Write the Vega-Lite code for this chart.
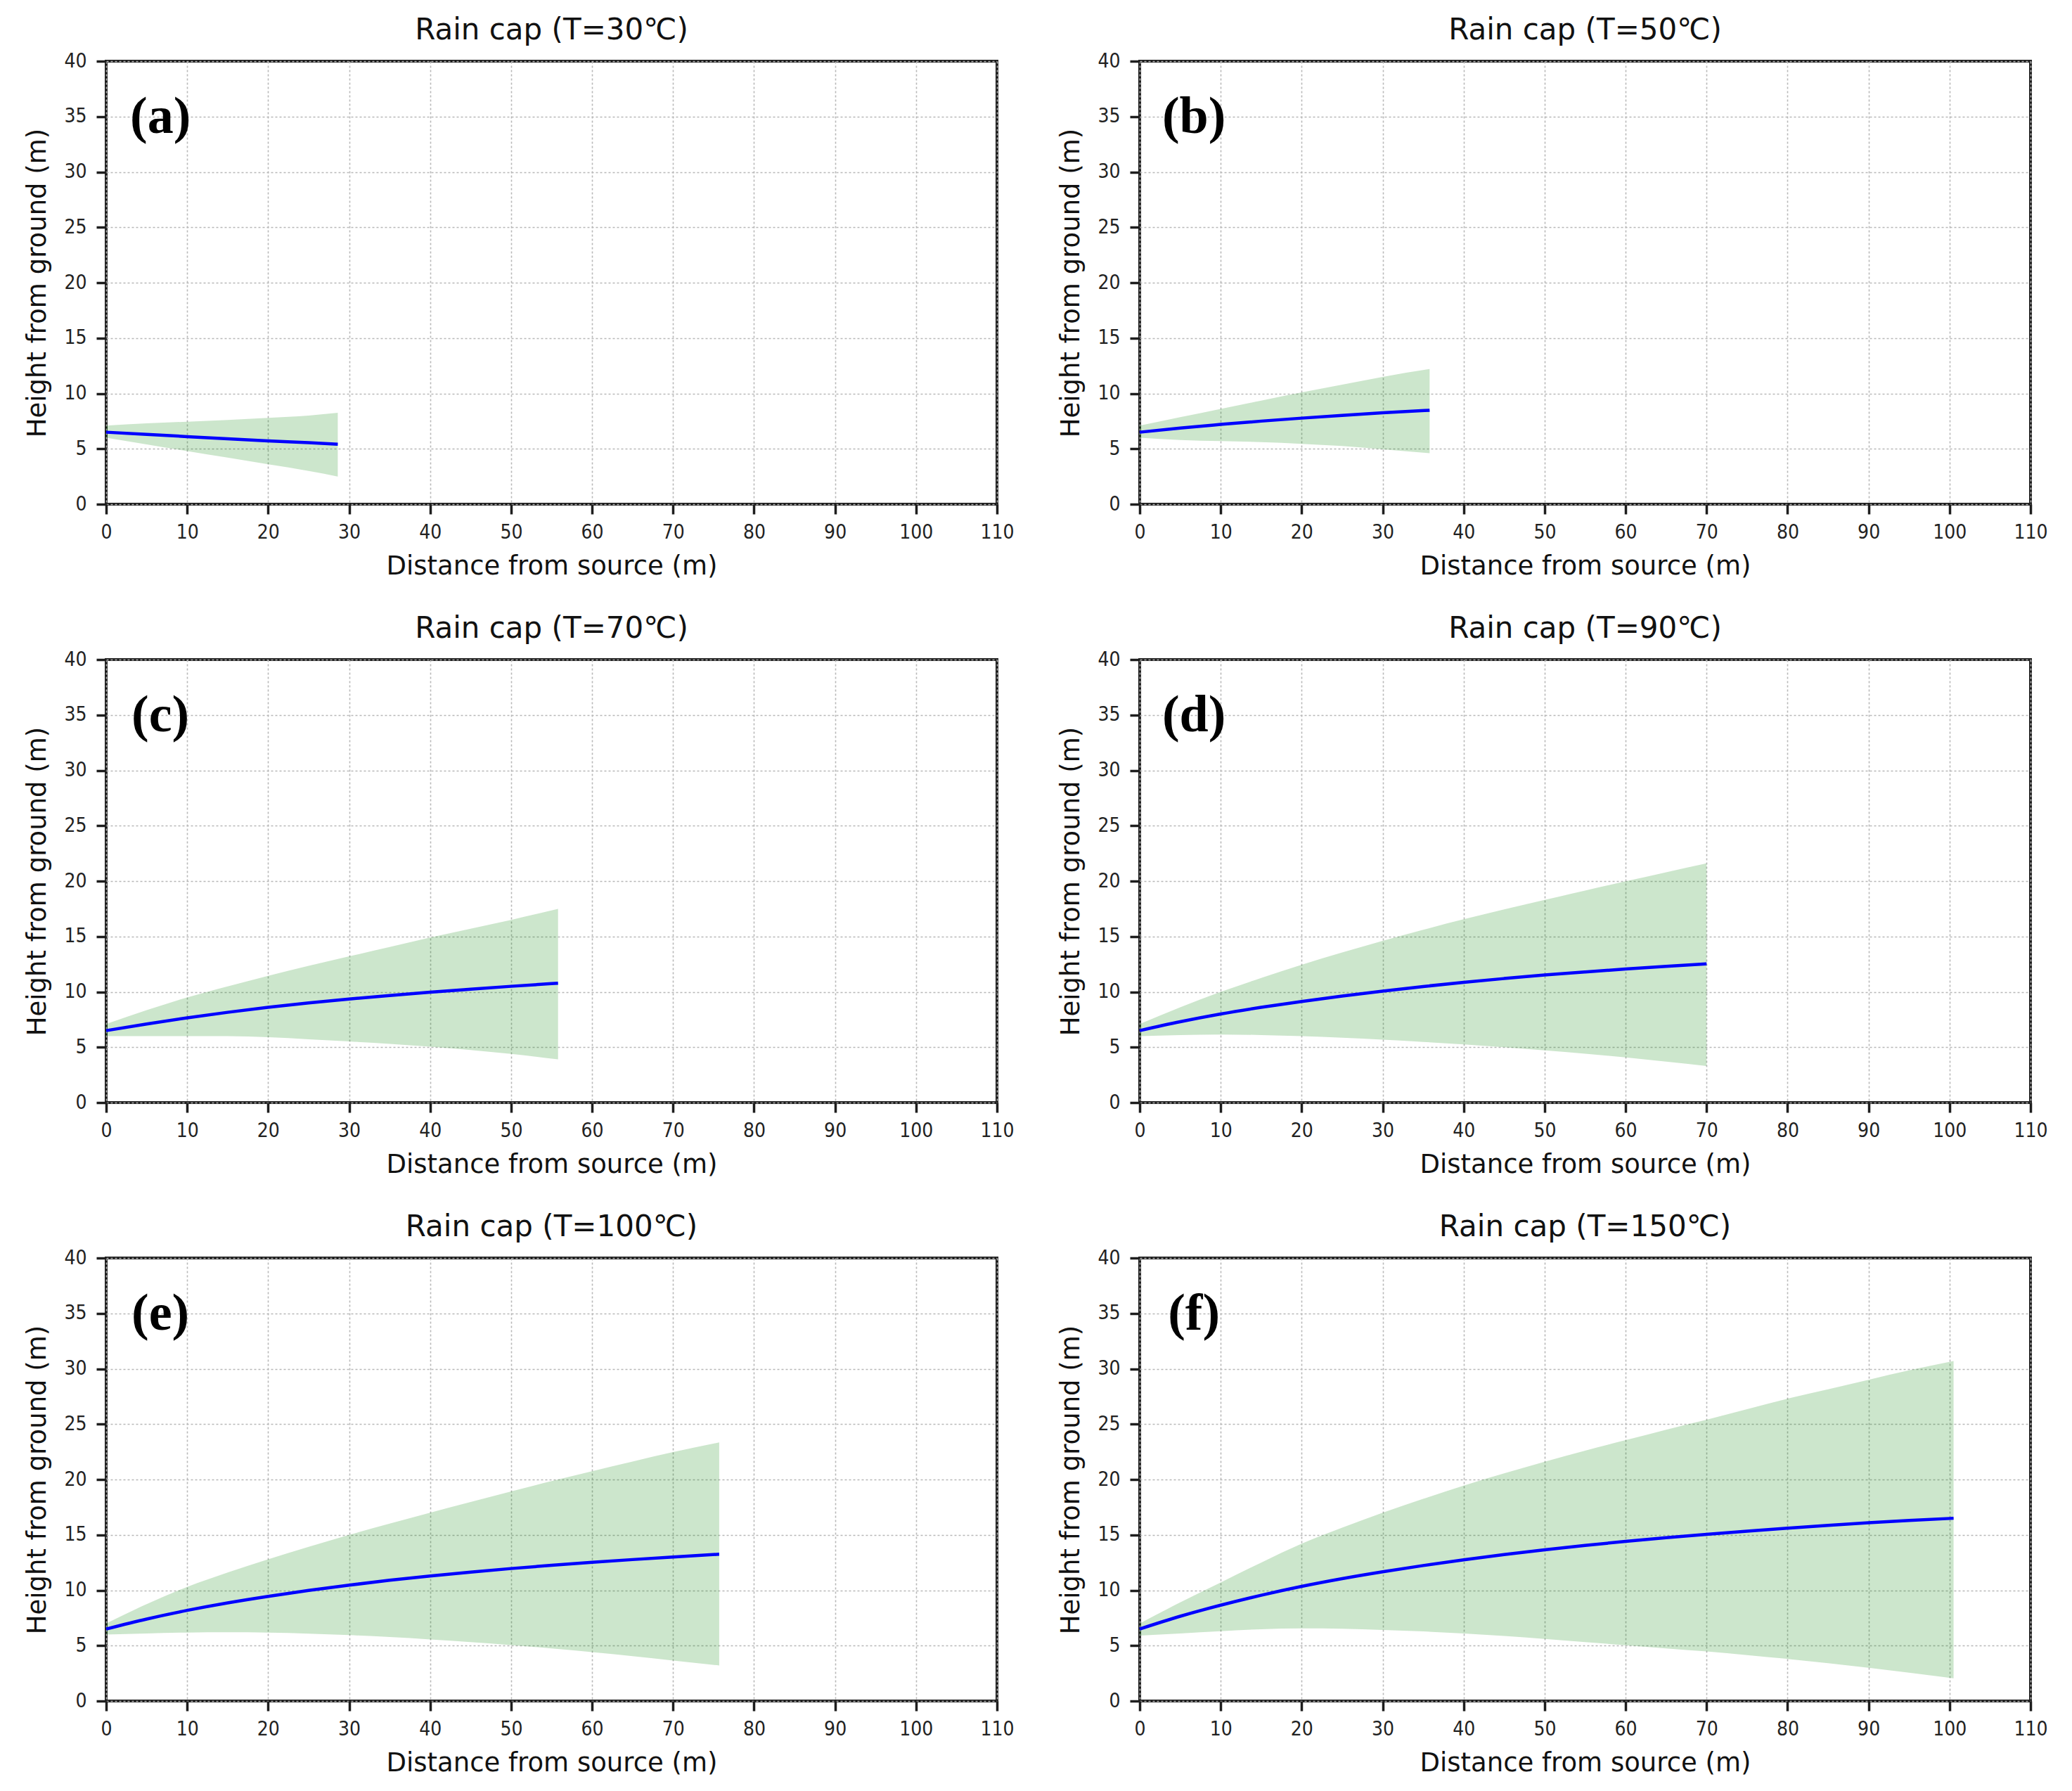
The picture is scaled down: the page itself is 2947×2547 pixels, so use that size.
{
  "$schema": "https://vega.github.io/schema/vega-lite/v6.json",
  "padding": {"left": 32, "top": 20, "right": 5, "bottom": 5},
  "background": "white",
  "data": {"values": [
    {"p":"a","x":0,"lo":6.0,"mid":6.5,"hi":7.1},
    {"p":"a","x":5,"lo":5.4,"mid":6.3,"hi":7.3},
    {"p":"a","x":10,"lo":4.8,"mid":6.1,"hi":7.45},
    {"p":"a","x":15,"lo":4.2,"mid":5.9,"hi":7.6},
    {"p":"a","x":20,"lo":3.6,"mid":5.72,"hi":7.8},
    {"p":"a","x":25,"lo":3.0,"mid":5.55,"hi":8.0},
    {"p":"a","x":28.6,"lo":2.5,"mid":5.42,"hi":8.25},
    {"p":"b","x":0,"lo":6.0,"mid":6.5,"hi":7.1},
    {"p":"b","x":5,"lo":5.8,"mid":6.88,"hi":7.85},
    {"p":"b","x":10,"lo":5.7,"mid":7.2,"hi":8.6},
    {"p":"b","x":15,"lo":5.6,"mid":7.5,"hi":9.35},
    {"p":"b","x":20,"lo":5.45,"mid":7.77,"hi":10.1},
    {"p":"b","x":25,"lo":5.25,"mid":8.02,"hi":10.8},
    {"p":"b","x":30,"lo":4.95,"mid":8.25,"hi":11.5},
    {"p":"b","x":35.8,"lo":4.6,"mid":8.48,"hi":12.2},
    {"p":"c","x":0,"lo":6.0,"mid":6.5,"hi":7.1},
    {"p":"c","x":5,"lo":6.0,"mid":7.1,"hi":8.35},
    {"p":"c","x":10,"lo":6.0,"mid":7.65,"hi":9.5},
    {"p":"c","x":15,"lo":6.0,"mid":8.15,"hi":10.5},
    {"p":"c","x":20,"lo":5.9,"mid":8.6,"hi":11.45},
    {"p":"c","x":25,"lo":5.72,"mid":9.0,"hi":12.35},
    {"p":"c","x":30,"lo":5.52,"mid":9.35,"hi":13.2},
    {"p":"c","x":35,"lo":5.3,"mid":9.67,"hi":14.05},
    {"p":"c","x":40,"lo":5.05,"mid":9.97,"hi":14.9},
    {"p":"c","x":45,"lo":4.75,"mid":10.24,"hi":15.7},
    {"p":"c","x":50,"lo":4.4,"mid":10.5,"hi":16.5},
    {"p":"c","x":55.8,"lo":3.9,"mid":10.78,"hi":17.5},
    {"p":"d","x":0,"lo":6.0,"mid":6.5,"hi":7.1},
    {"p":"d","x":5,"lo":6.1,"mid":7.3,"hi":8.6},
    {"p":"d","x":10,"lo":6.15,"mid":8.0,"hi":10.0},
    {"p":"d","x":15,"lo":6.1,"mid":8.6,"hi":11.25},
    {"p":"d","x":20,"lo":6.0,"mid":9.13,"hi":12.45},
    {"p":"d","x":25,"lo":5.85,"mid":9.62,"hi":13.55},
    {"p":"d","x":30,"lo":5.68,"mid":10.07,"hi":14.6},
    {"p":"d","x":35,"lo":5.48,"mid":10.48,"hi":15.6},
    {"p":"d","x":40,"lo":5.25,"mid":10.86,"hi":16.55},
    {"p":"d","x":45,"lo":5.0,"mid":11.2,"hi":17.45},
    {"p":"d","x":50,"lo":4.72,"mid":11.52,"hi":18.3},
    {"p":"d","x":55,"lo":4.42,"mid":11.8,"hi":19.15},
    {"p":"d","x":60,"lo":4.08,"mid":12.06,"hi":19.98},
    {"p":"d","x":65,"lo":3.7,"mid":12.3,"hi":20.8},
    {"p":"d","x":70,"lo":3.3,"mid":12.52,"hi":21.6},
    {"p":"e","x":0,"lo":6.0,"mid":6.5,"hi":7.0},
    {"p":"e","x":5,"lo":6.1,"mid":7.4,"hi":8.75},
    {"p":"e","x":10,"lo":6.18,"mid":8.18,"hi":10.3},
    {"p":"e","x":15,"lo":6.2,"mid":8.86,"hi":11.6},
    {"p":"e","x":20,"lo":6.17,"mid":9.45,"hi":12.8},
    {"p":"e","x":25,"lo":6.08,"mid":9.98,"hi":13.92},
    {"p":"e","x":30,"lo":5.95,"mid":10.46,"hi":15.0},
    {"p":"e","x":35,"lo":5.77,"mid":10.9,"hi":16.02},
    {"p":"e","x":40,"lo":5.56,"mid":11.29,"hi":17.0},
    {"p":"e","x":45,"lo":5.32,"mid":11.64,"hi":17.97},
    {"p":"e","x":50,"lo":5.05,"mid":11.96,"hi":18.92},
    {"p":"e","x":55,"lo":4.75,"mid":12.25,"hi":19.85},
    {"p":"e","x":60,"lo":4.42,"mid":12.52,"hi":20.75},
    {"p":"e","x":65,"lo":4.05,"mid":12.77,"hi":21.62},
    {"p":"e","x":70,"lo":3.65,"mid":13.0,"hi":22.47},
    {"p":"e","x":75.7,"lo":3.2,"mid":13.25,"hi":23.35},
    {"p":"f","x":0,"lo":5.9,"mid":6.5,"hi":7.0},
    {"p":"f","x":5,"lo":6.1,"mid":7.65,"hi":8.9},
    {"p":"f","x":10,"lo":6.3,"mid":8.65,"hi":10.7},
    {"p":"f","x":15,"lo":6.48,"mid":9.55,"hi":12.5},
    {"p":"f","x":20,"lo":6.55,"mid":10.35,"hi":14.2},
    {"p":"f","x":25,"lo":6.52,"mid":11.05,"hi":15.65},
    {"p":"f","x":30,"lo":6.42,"mid":11.67,"hi":17.0},
    {"p":"f","x":35,"lo":6.28,"mid":12.23,"hi":18.25},
    {"p":"f","x":40,"lo":6.1,"mid":12.75,"hi":19.45},
    {"p":"f","x":45,"lo":5.87,"mid":13.22,"hi":20.55},
    {"p":"f","x":50,"lo":5.6,"mid":13.65,"hi":21.6},
    {"p":"f","x":55,"lo":5.32,"mid":14.05,"hi":22.6},
    {"p":"f","x":60,"lo":5.03,"mid":14.41,"hi":23.55},
    {"p":"f","x":65,"lo":4.75,"mid":14.74,"hi":24.5},
    {"p":"f","x":70,"lo":4.47,"mid":15.05,"hi":25.4},
    {"p":"f","x":75,"lo":4.15,"mid":15.34,"hi":26.35},
    {"p":"f","x":80,"lo":3.8,"mid":15.61,"hi":27.3},
    {"p":"f","x":85,"lo":3.42,"mid":15.86,"hi":28.15},
    {"p":"f","x":90,"lo":3.0,"mid":16.09,"hi":29.0},
    {"p":"f","x":95,"lo":2.55,"mid":16.3,"hi":29.85},
    {"p":"f","x":100.5,"lo":2.05,"mid":16.5,"hi":30.7}
  ]},
  "columns": 2,
  "spacing": {"row": 221, "column": 203},
  "bounds": "flush",
  "concat": [
    {
      "title": "Rain cap (T=30℃)",
      "width": 1267, "height": 630,
      "transform": [{"filter": "datum.p === 'a'"}],
      "encoding": {"x": {"field": "x", "type": "quantitative", "title": "Distance from source (m)", "scale": {"domain": [0, 110], "nice": false}, "axis": {"values": [0,10,20,30,40,50,60,70,80,90,100,110]}}},
      "layer": [
        {"mark": {"type": "area", "color": "green", "opacity": 0.2, "interpolate": "monotone"}, "encoding": {"y": {"field": "lo", "type": "quantitative", "title": "Height from ground (m)", "scale": {"domain": [0, 40], "nice": false}, "axis": {"values": [0,5,10,15,20,25,30,35,40]}}, "y2": {"field": "hi"}}},
        {"mark": {"type": "line", "color": "blue", "strokeWidth": 4.5, "interpolate": "monotone"}, "encoding": {"y": {"field": "mid", "type": "quantitative"}}},
        {"transform": [{"filter": "datum.x === 0"}], "mark": {"type": "text", "text": "(a)", "font": "Liberation Serif", "fontWeight": "bold", "fontSize": 74, "baseline": "middle", "align": "center", "color": "black"}, "encoding": {"x": {"datum": 6.7, "type": "quantitative"}, "y": {"datum": 34.9, "type": "quantitative"}}}
      ]
    },
    {
      "title": "Rain cap (T=50℃)",
      "width": 1267, "height": 630,
      "transform": [{"filter": "datum.p === 'b'"}],
      "encoding": {"x": {"field": "x", "type": "quantitative", "title": "Distance from source (m)", "scale": {"domain": [0, 110], "nice": false}, "axis": {"values": [0,10,20,30,40,50,60,70,80,90,100,110]}}},
      "layer": [
        {"mark": {"type": "area", "color": "green", "opacity": 0.2, "interpolate": "monotone"}, "encoding": {"y": {"field": "lo", "type": "quantitative", "title": "Height from ground (m)", "scale": {"domain": [0, 40], "nice": false}, "axis": {"values": [0,5,10,15,20,25,30,35,40]}}, "y2": {"field": "hi"}}},
        {"mark": {"type": "line", "color": "blue", "strokeWidth": 4.5, "interpolate": "monotone"}, "encoding": {"y": {"field": "mid", "type": "quantitative"}}},
        {"transform": [{"filter": "datum.x === 0"}], "mark": {"type": "text", "text": "(b)", "font": "Liberation Serif", "fontWeight": "bold", "fontSize": 74, "baseline": "middle", "align": "center", "color": "black"}, "encoding": {"x": {"datum": 6.7, "type": "quantitative"}, "y": {"datum": 34.9, "type": "quantitative"}}}
      ]
    },
    {
      "title": "Rain cap (T=70℃)",
      "width": 1267, "height": 630,
      "transform": [{"filter": "datum.p === 'c'"}],
      "encoding": {"x": {"field": "x", "type": "quantitative", "title": "Distance from source (m)", "scale": {"domain": [0, 110], "nice": false}, "axis": {"values": [0,10,20,30,40,50,60,70,80,90,100,110]}}},
      "layer": [
        {"mark": {"type": "area", "color": "green", "opacity": 0.2, "interpolate": "monotone"}, "encoding": {"y": {"field": "lo", "type": "quantitative", "title": "Height from ground (m)", "scale": {"domain": [0, 40], "nice": false}, "axis": {"values": [0,5,10,15,20,25,30,35,40]}}, "y2": {"field": "hi"}}},
        {"mark": {"type": "line", "color": "blue", "strokeWidth": 4.5, "interpolate": "monotone"}, "encoding": {"y": {"field": "mid", "type": "quantitative"}}},
        {"transform": [{"filter": "datum.x === 0"}], "mark": {"type": "text", "text": "(c)", "font": "Liberation Serif", "fontWeight": "bold", "fontSize": 74, "baseline": "middle", "align": "center", "color": "black"}, "encoding": {"x": {"datum": 6.7, "type": "quantitative"}, "y": {"datum": 34.9, "type": "quantitative"}}}
      ]
    },
    {
      "title": "Rain cap (T=90℃)",
      "width": 1267, "height": 630,
      "transform": [{"filter": "datum.p === 'd'"}],
      "encoding": {"x": {"field": "x", "type": "quantitative", "title": "Distance from source (m)", "scale": {"domain": [0, 110], "nice": false}, "axis": {"values": [0,10,20,30,40,50,60,70,80,90,100,110]}}},
      "layer": [
        {"mark": {"type": "area", "color": "green", "opacity": 0.2, "interpolate": "monotone"}, "encoding": {"y": {"field": "lo", "type": "quantitative", "title": "Height from ground (m)", "scale": {"domain": [0, 40], "nice": false}, "axis": {"values": [0,5,10,15,20,25,30,35,40]}}, "y2": {"field": "hi"}}},
        {"mark": {"type": "line", "color": "blue", "strokeWidth": 4.5, "interpolate": "monotone"}, "encoding": {"y": {"field": "mid", "type": "quantitative"}}},
        {"transform": [{"filter": "datum.x === 0"}], "mark": {"type": "text", "text": "(d)", "font": "Liberation Serif", "fontWeight": "bold", "fontSize": 74, "baseline": "middle", "align": "center", "color": "black"}, "encoding": {"x": {"datum": 6.7, "type": "quantitative"}, "y": {"datum": 34.9, "type": "quantitative"}}}
      ]
    },
    {
      "title": "Rain cap (T=100℃)",
      "width": 1267, "height": 630,
      "transform": [{"filter": "datum.p === 'e'"}],
      "encoding": {"x": {"field": "x", "type": "quantitative", "title": "Distance from source (m)", "scale": {"domain": [0, 110], "nice": false}, "axis": {"values": [0,10,20,30,40,50,60,70,80,90,100,110]}}},
      "layer": [
        {"mark": {"type": "area", "color": "green", "opacity": 0.2, "interpolate": "monotone"}, "encoding": {"y": {"field": "lo", "type": "quantitative", "title": "Height from ground (m)", "scale": {"domain": [0, 40], "nice": false}, "axis": {"values": [0,5,10,15,20,25,30,35,40]}}, "y2": {"field": "hi"}}},
        {"mark": {"type": "line", "color": "blue", "strokeWidth": 4.5, "interpolate": "monotone"}, "encoding": {"y": {"field": "mid", "type": "quantitative"}}},
        {"transform": [{"filter": "datum.x === 0"}], "mark": {"type": "text", "text": "(e)", "font": "Liberation Serif", "fontWeight": "bold", "fontSize": 74, "baseline": "middle", "align": "center", "color": "black"}, "encoding": {"x": {"datum": 6.7, "type": "quantitative"}, "y": {"datum": 34.9, "type": "quantitative"}}}
      ]
    },
    {
      "title": "Rain cap (T=150℃)",
      "width": 1267, "height": 630,
      "transform": [{"filter": "datum.p === 'f'"}],
      "encoding": {"x": {"field": "x", "type": "quantitative", "title": "Distance from source (m)", "scale": {"domain": [0, 110], "nice": false}, "axis": {"values": [0,10,20,30,40,50,60,70,80,90,100,110]}}},
      "layer": [
        {"mark": {"type": "area", "color": "green", "opacity": 0.2, "interpolate": "monotone"}, "encoding": {"y": {"field": "lo", "type": "quantitative", "title": "Height from ground (m)", "scale": {"domain": [0, 40], "nice": false}, "axis": {"values": [0,5,10,15,20,25,30,35,40]}}, "y2": {"field": "hi"}}},
        {"mark": {"type": "line", "color": "blue", "strokeWidth": 4.5, "interpolate": "monotone"}, "encoding": {"y": {"field": "mid", "type": "quantitative"}}},
        {"transform": [{"filter": "datum.x === 0"}], "mark": {"type": "text", "text": "(f)", "font": "Liberation Serif", "fontWeight": "bold", "fontSize": 74, "baseline": "middle", "align": "center", "color": "black"}, "encoding": {"x": {"datum": 6.7, "type": "quantitative"}, "y": {"datum": 34.9, "type": "quantitative"}}}
      ]
    }
  ],
  "config": {
    "font": "DejaVu Sans",
    "view": {"stroke": "#1e1e1e", "strokeWidth": 4},
    "axis": {
      "domain": false,
      "grid": true,
      "gridColor": "#b8b8b8",
      "gridDash": [3, 3],
      "gridWidth": 1.6,
      "tickColor": "#1e1e1e",
      "tickWidth": 3.5,
      "tickSize": 14,
      "labelFont": "DejaVu Sans Condensed, DejaVu Sans",
      "labelFontSize": 28,
      "labelColor": "#222222",
      "labelOverlap": false,
      "labelFlush": false,
      "labelPadding": 12,
      "titleFont": "DejaVu Sans",
      "titleFontSize": 37,
      "titleFontWeight": "normal",
      "titleColor": "#111111",
      "titlePadding": 16
    },
    "axisY": {"labelPadding": 14, "titlePadding": 18},
    "title": {"font": "DejaVu Sans", "fontSize": 42, "fontWeight": "normal", "offset": 8, "color": "#111111"}
  }
}
